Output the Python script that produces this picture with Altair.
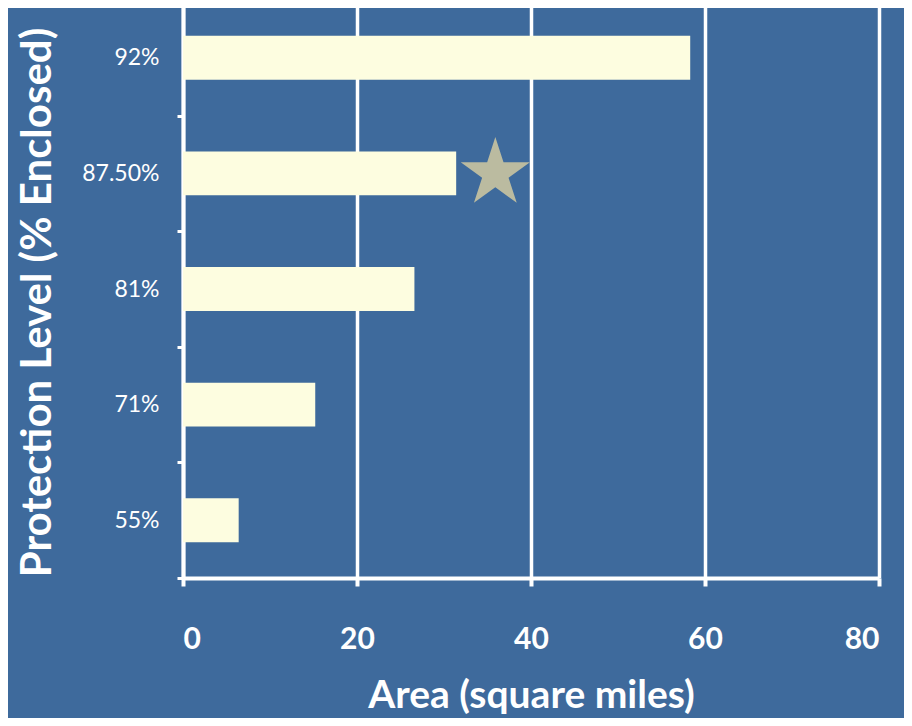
import math
import altair as alt
import pandas as pd

levels = ["92%", "87.50%", "81%", "71%", "55%"]
areas = [58.3, 31.4, 26.6, 15.2, 6.4]
star_level = ["87.50%"]
star_area = [35.9]
x_ticks = [0, 20, 40, 60, 80]

bars_df = pd.DataFrame({"level": levels, "area": areas})
star_df = pd.DataFrame({"level": star_level, "area": star_area})

FONT = "Lato"
BG = "#3E6A9C"

# five-pointed star glyph in Vega's -1..1 symbol box
pts = []
for i in range(10):
    r = 1.0 if i % 2 == 0 else 0.382
    a = math.radians(-90 + 36 * i)
    pts.append(f"{r * math.cos(a):.4f},{r * math.sin(a):.4f}")
STAR_PATH = "M" + "L".join(pts) + "Z"

y_enc = alt.Y(
    "level:N",
    sort=levels,
    scale=alt.Scale(paddingInner=0, paddingOuter=0),
    axis=alt.Axis(
        title="Protection Level (% Enclosed)",
        titleFont=FONT, titleFontSize=42, titleFontWeight="bold", titleColor="white",
        titleX=-146, titleY=302, titleAngle=270, titleBaseline="middle", titleAlign="center",
        labelFont=FONT, labelFontSize=23, labelColor="white", labelPadding=18,
        tickBand="extent", tickColor="white", tickWidth=3, tickSize=6,
        domainColor="white", domainWidth=4, grid=False,
    ),
)

x_enc = alt.X(
    "area:Q",
    scale=alt.Scale(domain=[0, 80]),
    axis=alt.Axis(
        values=x_ticks,
        title="Area (square miles)",
        titleFont=FONT, titleFontSize=39, titleFontWeight="bold", titleColor="white",
        titlePadding=22,
        labelFont=FONT, labelFontSize=30, labelFontWeight="bold", labelColor="white",
        labelPadding=38,
        tickColor="white", tickWidth=4, tickSize=8,
        domainColor="white", domainWidth=4,
        grid=True, gridColor="white", gridWidth=3.5, gridOpacity=1,
    ),
)

bars = alt.Chart(bars_df).mark_bar(color="#FDFDE0", height={"band": 0.38}).encode(
    x=x_enc, y=y_enc
)

star = alt.Chart(star_df).mark_point(
    shape=STAR_PATH, filled=True, color="#BBBBA0", opacity=1, size=5300
).encode(x="area:Q", y=alt.Y("level:N", sort=levels))

chart = (
    alt.layer(bars, star)
    .properties(
        width=696,
        height=578,
        background=BG,
        autosize=alt.AutoSizeParams(type="none"),
        padding={"left": 175, "top": -8, "right": 25, "bottom": 140},
    )
    .configure_view(stroke=None)
)

chart.save("out.html", embed_options={"renderer": "svg", "actions": False})
